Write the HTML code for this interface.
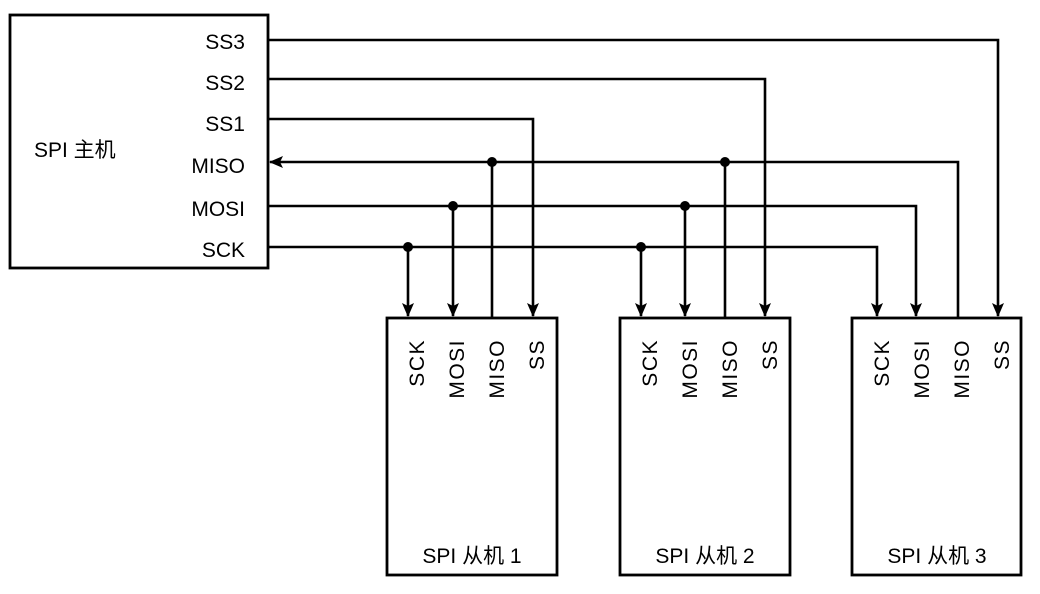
<!DOCTYPE html>
<html><head><meta charset="utf-8"><style>
html,body{margin:0;padding:0;background:#fff;}
svg{display:block;}
text{font-family:"Liberation Sans","Noto Sans CJK SC",sans-serif;font-size:21px;fill:#000;}
.r{letter-spacing:1.5px;}
</style></head><body>
<svg width="1040" height="594" viewBox="0 0 1040 594" xmlns="http://www.w3.org/2000/svg">
<defs>
<marker id="a" markerWidth="14" markerHeight="12" refX="13" refY="6" orient="auto" markerUnits="userSpaceOnUse">
<path d="M0,0 L14,6 L0,12 L3,6 Z" fill="#000"/></marker>
</defs>
<g fill="none" stroke="#000" stroke-width="2.8">
<rect x="10" y="15" width="258" height="253"/>
<rect x="387" y="318" width="170" height="257"/>
<rect x="620" y="318" width="170" height="257"/>
<rect x="852" y="318" width="169" height="257"/>
</g>
<g fill="none" stroke="#000" stroke-width="2.6">
<polyline points="268,40 998,40 998,316" marker-end="url(#a)"/>
<polyline points="268,79 765,79 765,316" marker-end="url(#a)"/>
<polyline points="268,119 533,119 533,316" marker-end="url(#a)"/>
<polyline points="958,318 958,162 270,162" marker-end="url(#a)"/>
<line x1="492" y1="162" x2="492" y2="318"/>
<line x1="725" y1="162" x2="725" y2="318"/>
<polyline points="268,206 916,206 916,316" marker-end="url(#a)"/>
<line x1="453" y1="206" x2="453" y2="316" marker-end="url(#a)"/>
<line x1="685" y1="206" x2="685" y2="316" marker-end="url(#a)"/>
<polyline points="268,247 877,247 877,316" marker-end="url(#a)"/>
<line x1="408" y1="247" x2="408" y2="316" marker-end="url(#a)"/>
<line x1="641" y1="247" x2="641" y2="316" marker-end="url(#a)"/>
</g>
<g fill="#000">
<circle cx="492" cy="162" r="5"/><circle cx="725" cy="162" r="5"/>
<circle cx="453" cy="206" r="5"/><circle cx="685" cy="206" r="5"/>
<circle cx="408" cy="247" r="5"/><circle cx="641" cy="247" r="5"/>
</g>
<g text-anchor="end">
<text x="245" y="49">SS3</text>
<text x="245" y="90">SS2</text>
<text x="245" y="131">SS1</text>
<text x="245" y="173">MISO</text>
<text x="245" y="216">MOSI</text>
<text x="245" y="257">SCK</text>
</g>
<text x="34" y="157">SPI 主机</text>
<g text-anchor="end" class="r">
<g transform="translate(387,0)">
<text transform="translate(37,339) rotate(-90)">SCK</text>
<text transform="translate(77,339) rotate(-90)">MOSI</text>
<text transform="translate(117,339) rotate(-90)">MISO</text>
<text transform="translate(157,339) rotate(-90)">SS</text>
</g>
<g transform="translate(620,0)">
<text transform="translate(37,339) rotate(-90)">SCK</text>
<text transform="translate(77,339) rotate(-90)">MOSI</text>
<text transform="translate(117,339) rotate(-90)">MISO</text>
<text transform="translate(157,339) rotate(-90)">SS</text>
</g>
<g transform="translate(852,0)">
<text transform="translate(37,339) rotate(-90)">SCK</text>
<text transform="translate(77,339) rotate(-90)">MOSI</text>
<text transform="translate(117,339) rotate(-90)">MISO</text>
<text transform="translate(157,339) rotate(-90)">SS</text>
</g>
</g>
<g text-anchor="middle">
<text x="472" y="563">SPI 从机 1</text>
<text x="705" y="563">SPI 从机 2</text>
<text x="937" y="563">SPI 从机 3</text>
</g>
</svg>
</body></html>
